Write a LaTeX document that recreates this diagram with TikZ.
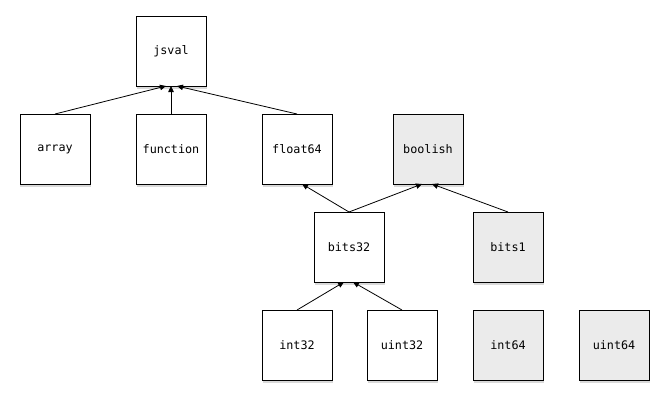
\documentclass[tikz,border=0pt]{standalone}
\usepackage{fontspec}
\setmonofont{DejaVu Sans Mono}
\usepackage{xcolor}
\usepackage{tikz}
\usetikzlibrary{shapes,arrows.meta,positioning,shadows}
\definecolor{boxgrey}{HTML}{EBEBEB}

\begin{document}
\begin{tikzpicture}[
    x=1bp, y=1bp,
    node distance=28bp and 46bp,
    box/.style={rectangle, draw, line width=0.9bp, minimum size=70bp, inner sep=0pt, outer sep=0pt, align=center,
        fill=white, font=\ttfamily\fontsize{11.8}{14}\selectfont,
        drop shadow={shadow xshift=0.5bp, shadow yshift=-3bp, opacity=0.3}},
    greybox/.style={box, fill=boxgrey},
    arrow/.style={-{Triangle[length=6bp,width=5.5bp]}, line width=0.8bp}
]
    \useasboundingbox (0,0) rectangle (669,-403);
    \node[box] (jsval) at (171,-51) {jsval};
    \node[box, below=of jsval] (function) {function};
    \node[box, left=of function] (array) {array};
    \node[box, right=56bp of function] (float64) {float64};
    \node[greybox, right=61bp of float64] (boolish) {boolish};
    \node[box, below=of float64, xshift=52bp] (bits32) {bits32};
    \node[greybox, right=89bp of bits32] (bits1) {bits1};
    \node[box, below=of bits32, xshift=-52bp] (int32) {int32};
    \node[box, right=35bp of int32] (uint32) {uint32};
    \node[greybox, right=36bp of uint32] (int64) {int64};
    \node[greybox, right=36bp of int64] (uint64) {uint64};

    \draw[arrow] (array.north) -- ([xshift=-5bp]jsval.south);
    \draw[arrow] (function.north) -- (jsval.south);
    \draw[arrow] (float64.north) -- ([xshift=6bp]jsval.south);
    \draw[arrow] (bits32.north) -- ([xshift=5bp]float64.south);
    \draw[arrow] (bits32.north) -- ([xshift=-6bp]boolish.south);
    \draw[arrow] (bits1.north) -- ([xshift=4bp]boolish.south);
    \draw[arrow] (int32.north) -- ([xshift=-5bp]bits32.south);
    \draw[arrow] (uint32.north) -- ([xshift=4bp]bits32.south);
\end{tikzpicture}
\end{document}
